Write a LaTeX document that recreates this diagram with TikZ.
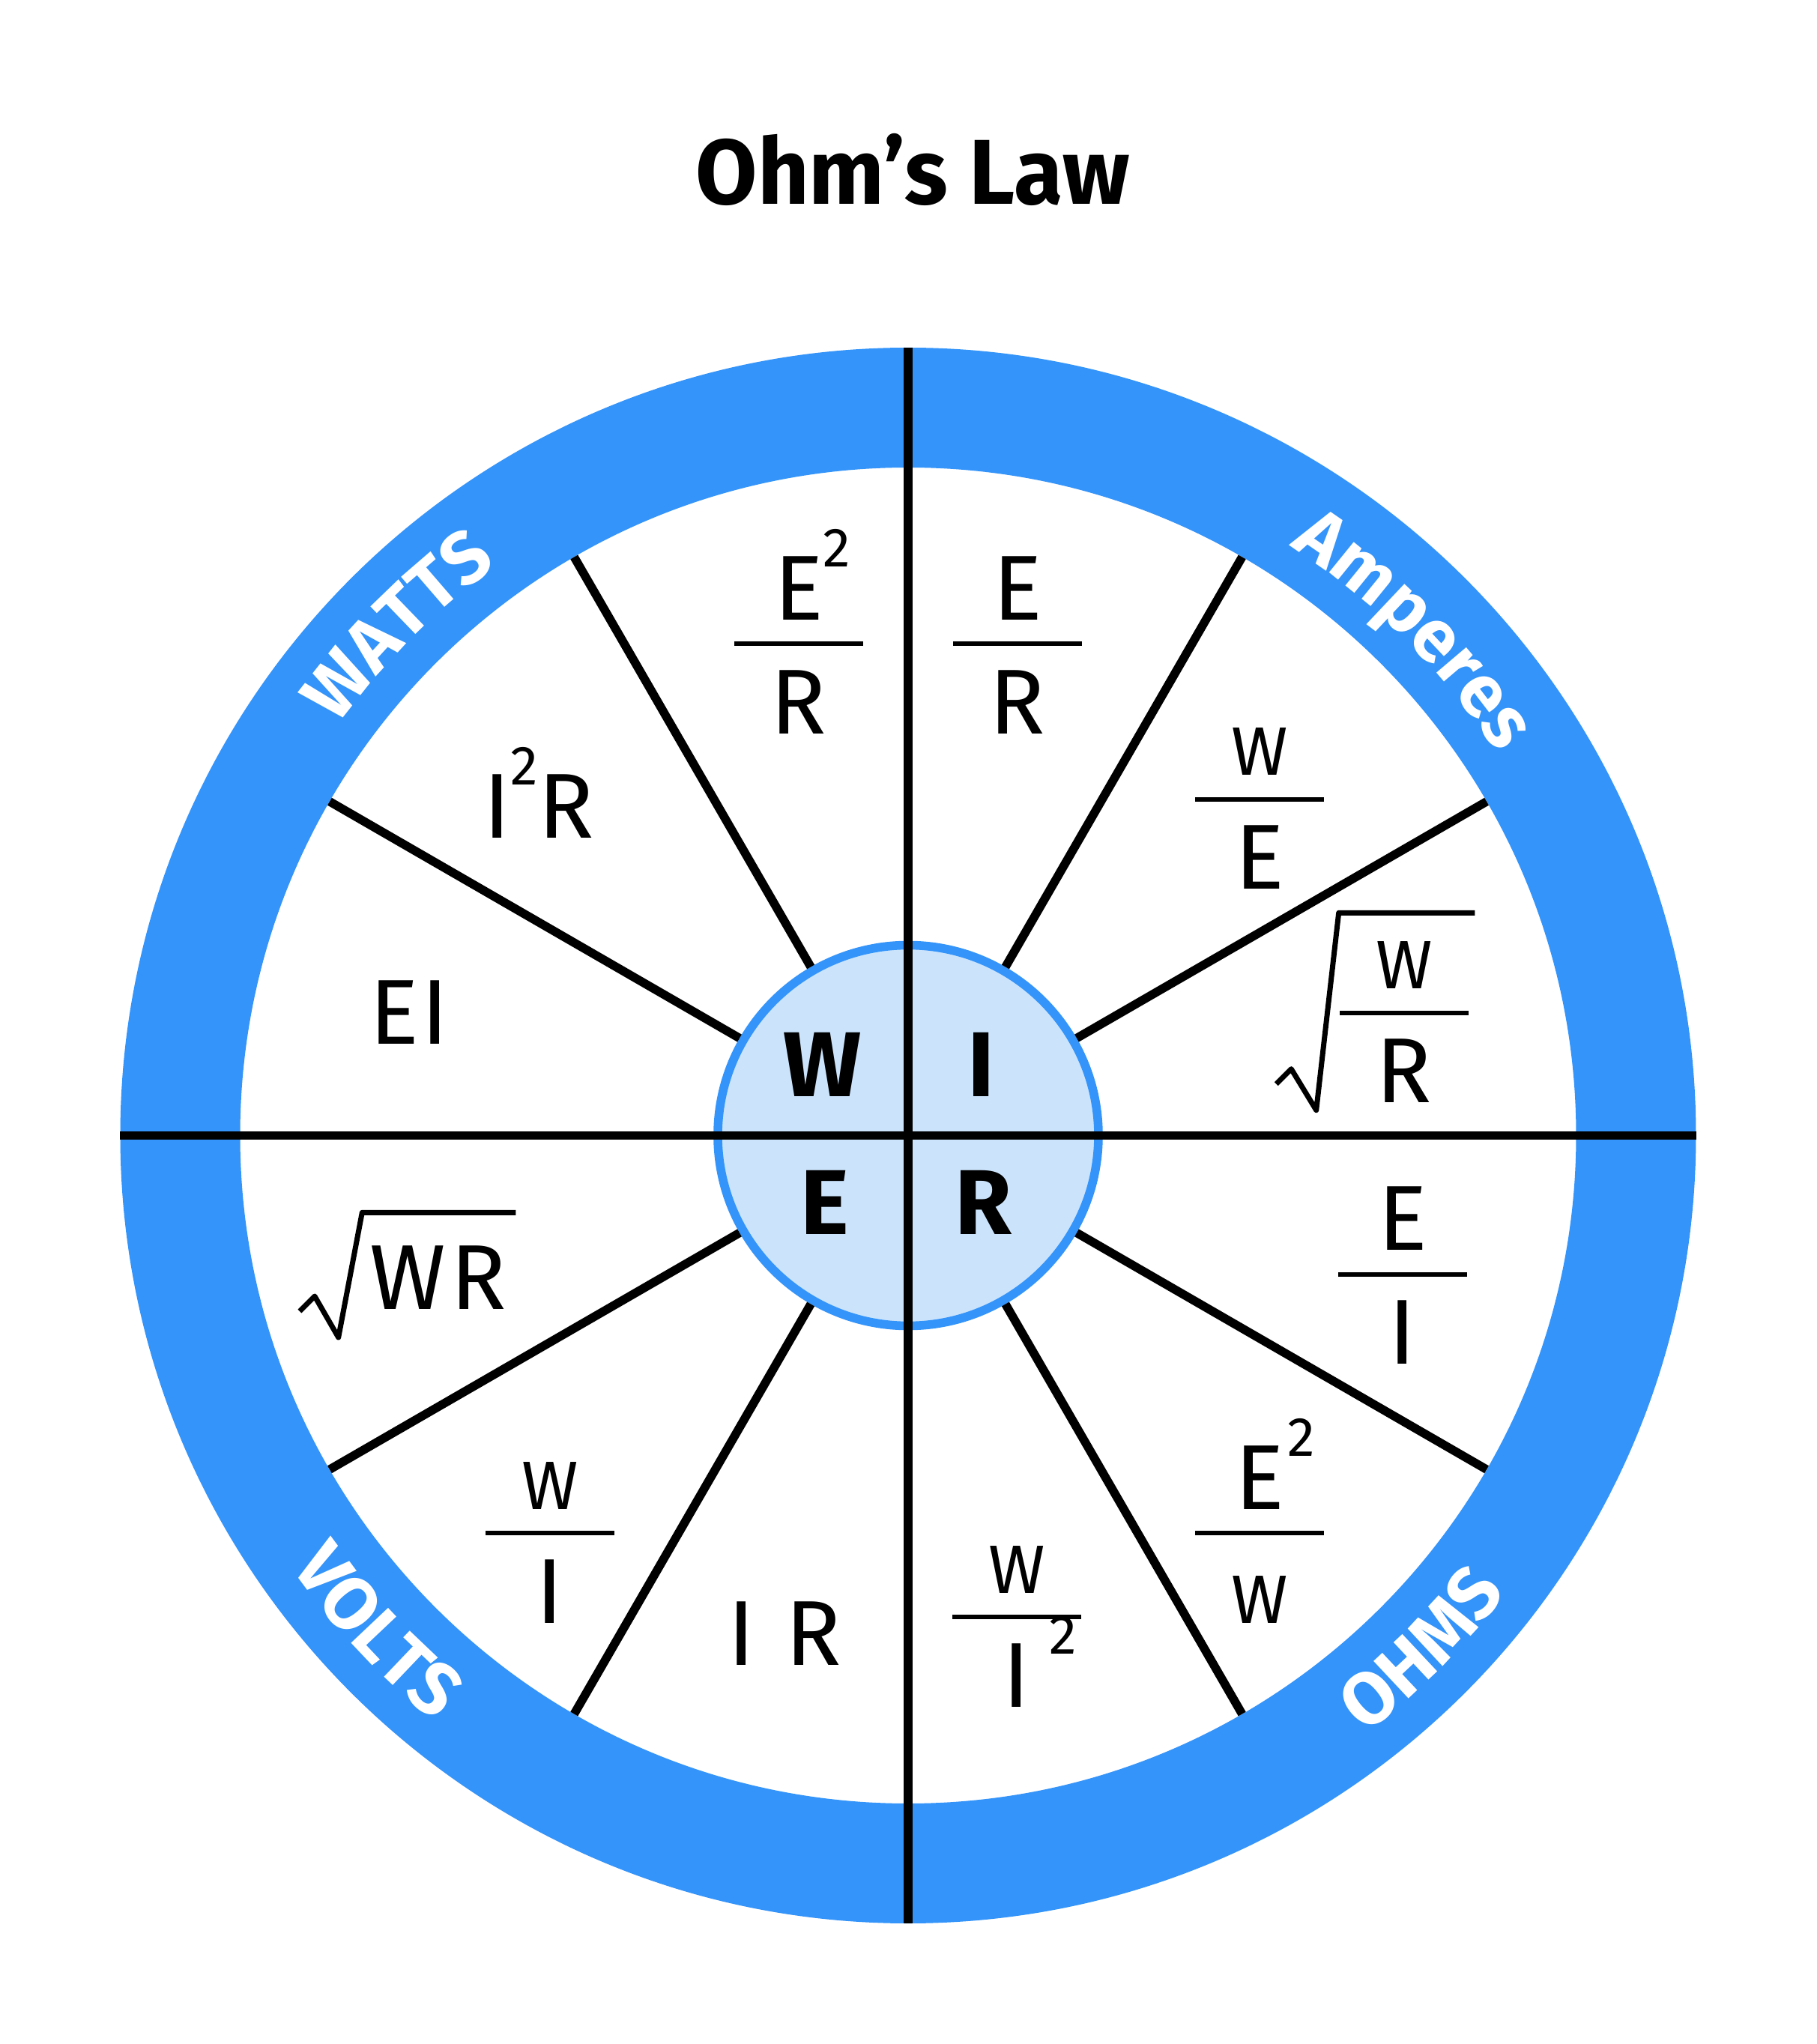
\documentclass[tikz,border=0pt]{standalone}
\usepackage{fontspec}
\setmainfont{Fira Sans}
\usepackage{tikz}
\usetikzlibrary{positioning,calc,decorations.text}
\definecolor{ohmblue}{RGB}{52,148,250}
\definecolor{ohmlight}{RGB}{203,228,252}

\newcommand{\lblsize}{\fontsize{35}{40}\selectfont}
\newcommand{\wsize}{\fontsize{26}{30}\selectfont}
\newcommand{\sqr}{\raisebox{7.1mm}{\fontsize{21}{24}\selectfont 2}}
% fraction: name, position, numerator, denominator
\newcommand{\ohmfrac}[4]{%
  \coordinate (#1) at (#2);
  \draw[fracbar] ([xshift=-8.6mm]#1) -- ([xshift=8.6mm]#1);
  \node[lbl, yshift=3.2mm] (#1-num) at (#1) {#3};
  \node[lbl, yshift=-12mm] (#1-den) at (#1) {#4};}

\tikzset{
  lbl/.style={anchor=base, inner sep=0pt, font=\lblsize},
  fracbar/.style={line width=0.6mm},
  spoke/.style={line width=1.15mm},
  radical/.style={line width=0.7mm, line join=round},
  ringtext/.style={decorate, decoration={text along path, text align=center,
      text={|\color{white}\bfseries\fontsize{28}{30}\selectfont|#1}}}
}

\begin{document}
\begin{tikzpicture}
  \useasboundingbox (-12.12,-12.125) rectangle (12.12,15.155);

  % Title
  \node[anchor=base, inner sep=0pt, font=\bfseries\fontsize{35}{40}\selectfont] (title) at (0.06,12.425) {\scalebox{0.97}[1]{Ohm’s Law}};

  % Outer ring
  \node[circle, draw=ohmblue, line width=16mm, minimum size=194.3mm, inner sep=0pt, outer sep=8mm] (rim) at (0,0) {};
  \path[ringtext=WATTS] (180:9.375) arc[start angle=180, end angle=90, radius=9.375];
  \path[ringtext=Amperes] (90:9.375) arc[start angle=90, end angle=0, radius=9.375];
  \path[ringtext=VOLTS] (178:10.055) arc[start angle=178, end angle=268, radius=10.055];
  \path[ringtext=OHMS] (270:10.055) arc[start angle=270, end angle=360, radius=10.055];

  % Hub
  \node[circle, draw=ohmblue, fill=ohmlight, line width=1.16mm, minimum size=50.8mm, inner sep=0pt, outer sep=0.58mm] (hub) at (0,0) {};
  \foreach \a in {30,60,120,150,210,240,300,330}
    \draw[spoke] (hub.\a) -- (\a:8.915);
  \draw[spoke] (rim.north) -- (rim.south);
  \draw[spoke] (rim.west) -- (rim.east);

  \node[lbl, font=\lblsize\bfseries] (w) at (-1.14,0.515) {W};
  \node[lbl, font=\lblsize\bfseries] (i) at (0.98,0.515) {I};
  \node[lbl, font=\lblsize\bfseries] (e) at (-1.11,-1.325) {E};
  \node[lbl, font=\lblsize\bfseries] (r) at (1.00,-1.325) {R};

  % Watts
  \ohmfrac{esqr}{-1.46,6.56}{E\rlap{\sqr}}{R}
  \node[lbl] (isqr) at (-4.93,3.965) {I\sqr R};
  \node[lbl] (ei) at (-6.66,1.215) {E\kern0.3mm I};

  % Amperes
  \ohmfrac{er}{1.46,6.56}{E}{R}
  \ohmfrac{we}{4.69,4.485}{\wsize W}{E}
  \ohmfrac{wr}{6.62,1.635}{\wsize W}{R}
  \draw[radical] (4.913,0.688) -- (5.113,0.888) -- (5.447,0.338) -- (5.747,2.972) -- (7.563,2.972);

  % Volts
  \node[lbl] (sqwr) at (-6.27,-2.325) {W\kern0.6mm R};
  \draw[radical] (-8.12,-2.345) -- (-7.92,-2.145) -- (-7.603,-2.695) -- (-7.287,-1.028) -- (-5.237,-1.028);
  \ohmfrac{wi}{-4.78,-5.305}{\wsize W}{I}
  \node[lbl] (ir) at (-1.65,-7.065) {I\,\,R};

  % Ohms
  \ohmfrac{wisq}{1.45,-6.425}{\wsize W}{I\rlap{\kern2.5mm\sqr}}
  \ohmfrac{esqw}{4.69,-5.305}{E\rlap{\kern0.5mm\sqr}}{\wsize W}
  \ohmfrac{eoi}{6.60,-1.85}{E}{I}
\end{tikzpicture}
\end{document}
